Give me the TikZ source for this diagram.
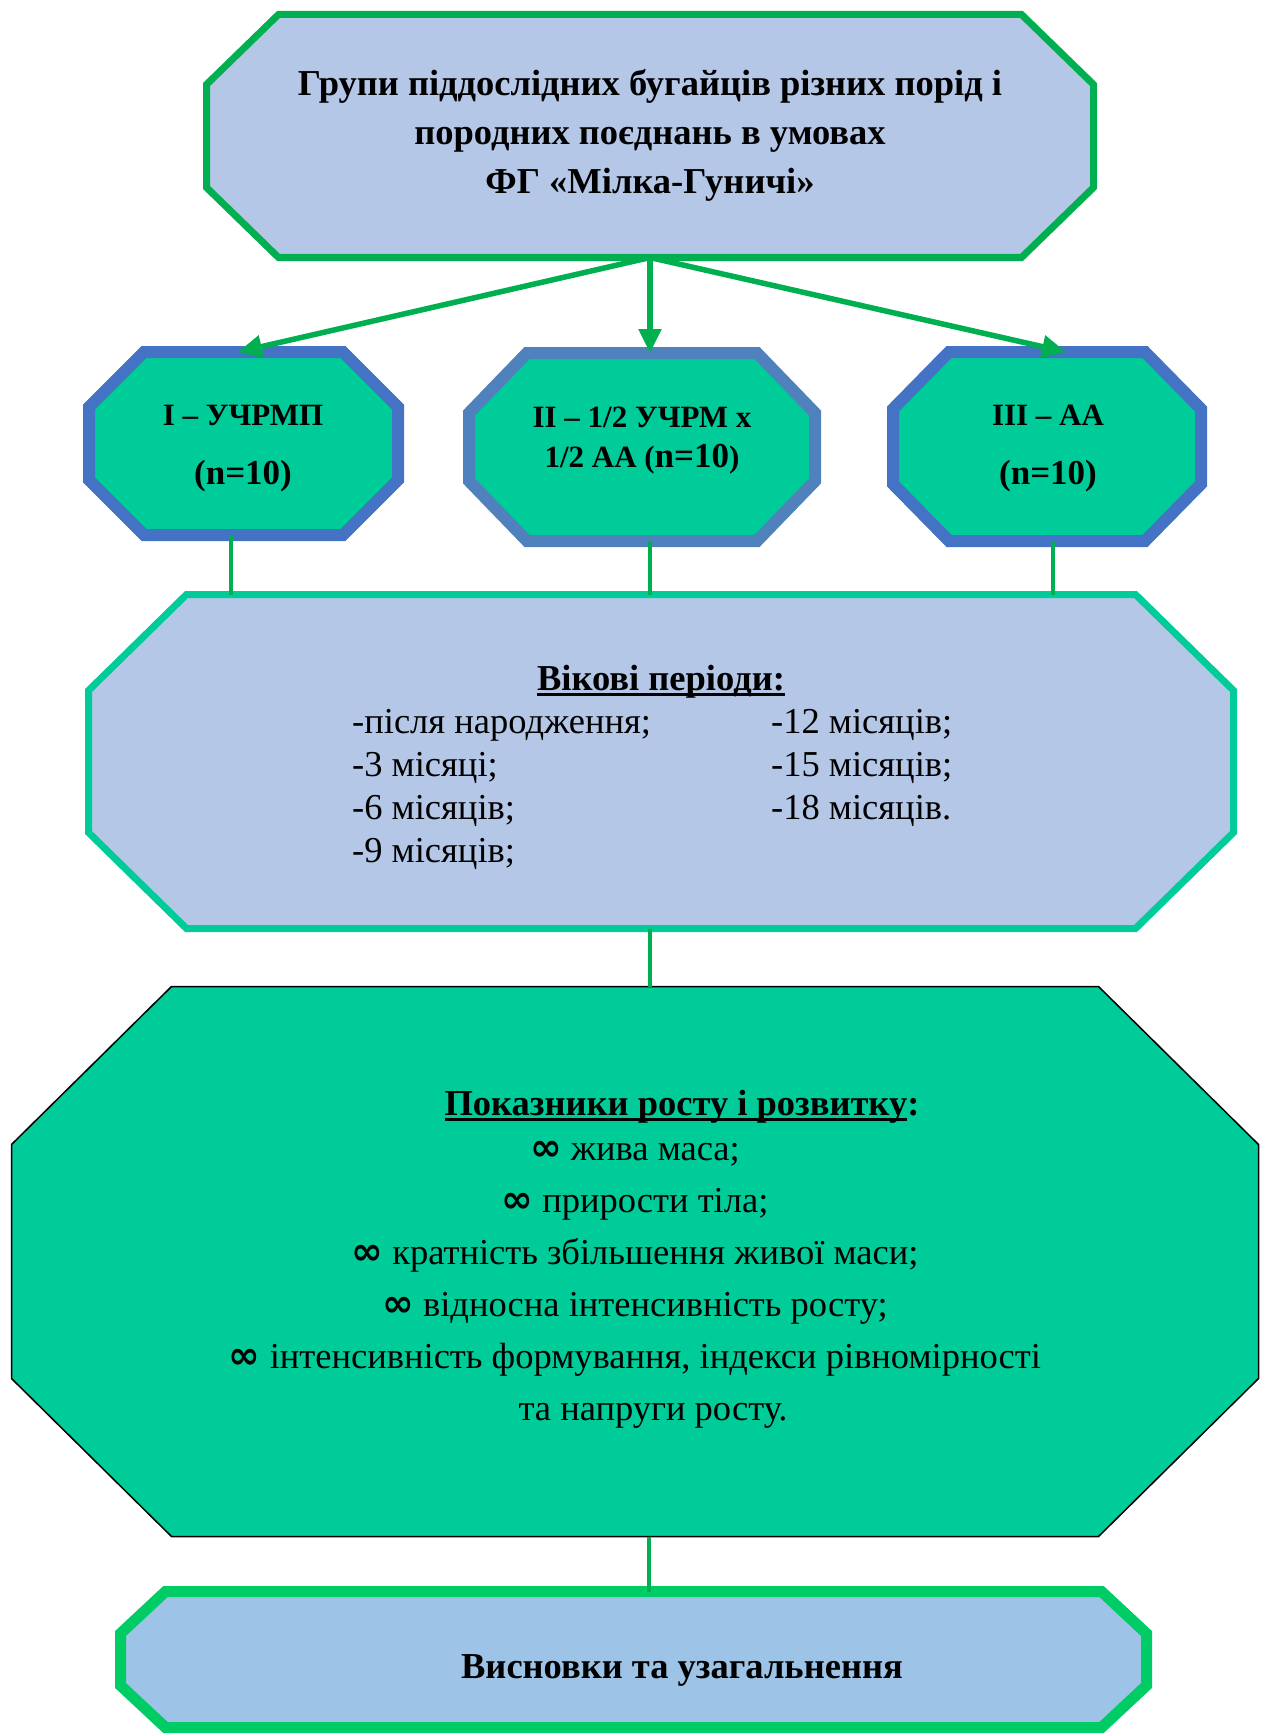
\documentclass[tikz,border=0pt]{standalone}
\usepackage{fontspec}
\setmainfont{Liberation Serif}
\newfontfamily\dejavu{DejaVu Sans}
\usetikzlibrary{arrows.meta}
\definecolor{arrgreen}{HTML}{00B050}
\definecolor{paleblue}{HTML}{B4C7E7}
\definecolor{lightblue}{HTML}{9DC3E6}
\definecolor{teal}{HTML}{00CC99}
\definecolor{blueA}{HTML}{4472C4}
\definecolor{blueB}{HTML}{4F81BD}
\definecolor{greenB}{HTML}{00CC66}
\newcommand\octframe[4]{%
  \draw[#4] ([xshift=#2]#1.north west) -- ([xshift=-#2]#1.north east)
    -- ([yshift=-#3]#1.north east) -- ([yshift=#3]#1.south east)
    -- ([xshift=-#2]#1.south east) -- ([xshift=#2]#1.south west)
    -- ([yshift=#3]#1.south west) -- ([yshift=-#3]#1.north west) -- cycle;}
\newcommand\thickul[1]{\setbox0\hbox{#1}\rlap{\rule[-6pt]{\wd0}{3pt}}\box0}
\newcommand\infmark{{\dejavu\bfseries\fontsize{38}{38}\selectfont ∞}}
\tikzset{
  frame/.style={inner sep=0pt, outer sep=0pt, draw=none},
  txt/.style={inner sep=0pt, text=black},
  arr/.style={draw=arrgreen, line width=5.5pt, -{Triangle[length=24pt,width=22pt]}},
  conn/.style={draw=arrgreen, line width=4.5pt},
  big/.style={font=\fontsize{36.5}{43}\selectfont},
  bigb/.style={font=\fontsize{36.5}{49}\selectfont\bfseries},
  boxb/.style={font=\fontsize{31}{40}\selectfont\bfseries},
}
\begin{document}
\begin{tikzpicture}[x=1pt,y=-1pt]
\useasboundingbox (0,0) rectangle (1266,1736);
\fill[white] (0,0) rectangle (1266,1736);
% frames
\node[frame, minimum width=887pt, minimum height=243pt] (top) at (650,136) {};
\node[frame, minimum width=309pt, minimum height=183pt] (b1) at (243.5,443.5) {};
\node[frame, minimum width=346pt, minimum height=188pt] (b2) at (642,447) {};
\node[frame, minimum width=308pt, minimum height=189pt] (b3) at (1047,446.5) {};
\node[frame, minimum width=1145pt, minimum height=334pt] (mid) at (661,761.5) {};
\node[frame, minimum width=1247pt, minimum height=550pt] (bigbox) at (635,1261.5) {};
\node[frame, minimum width=1026pt, minimum height=136pt] (bot) at (633.5,1659.5) {};
\octframe{top}{72pt}{70pt}{draw=arrgreen, line width=7pt, fill=paleblue}
\octframe{b1}{55pt}{55pt}{draw=blueA, line width=12pt, fill=teal}
\octframe{b2}{58pt}{60pt}{draw=blueB, line width=12pt, fill=teal}
\octframe{b3}{56pt}{57pt}{draw=blueA, line width=12pt, fill=teal}
\octframe{mid}{98pt}{96pt}{draw=teal, line width=7pt, fill=paleblue}
\octframe{bigbox}{160pt}{158pt}{draw=black, line width=1.5pt, fill=teal}
\octframe{bot}{45pt}{42pt}{draw=greenB, line width=11pt, fill=lightblue}
% connectors
\draw[arr] (top.south) -- ([xshift=-5.5pt]b1.north);
\draw[arr] (top.south) -- ([xshift=8pt]b2.north);
\draw[arr] (top.south) -- ([xshift=19pt]b3.north);
\draw[conn] ([xshift=-12.5pt]b1.south) -- ([xshift=-12.5pt]b1.south |- mid.north);
\draw[conn] ([xshift=8pt]b2.south) -- ([xshift=8pt]b2.south |- mid.north);
\draw[conn] ([xshift=6pt]b3.south) -- ([xshift=6pt]b3.south |- mid.north);
\draw[conn] ([xshift=-11pt]mid.south) -- ([xshift=-11pt]mid.south |- bigbox.north);
\draw[conn] ([xshift=14pt]bigbox.south) -- ([xshift=14pt]bigbox.south |- bot.north);
% texts
\node[txt, bigb, align=center] (toptext) at (650,135) {Групи піддослідних бугайців різних порід і\\породних поєднань в умовах\\ФГ «Мілка-Гуничі»};
\node[txt, boxb, anchor=base] (t1a) at (243,425) {I – УЧРМП};
\node[txt, boxb, anchor=base] (t1b) at (243,484) {\fontsize{35}{40}\selectfont(n=10)};
\node[txt, boxb, anchor=base] (t2a) at (642,427) {II – 1/2 УЧРМ x};
\node[txt, boxb, anchor=base] (t2b) at (642,467) {1/2 AA ({\fontsize{35}{40}\selectfont n=10})};
\node[txt, boxb, anchor=base] (t3a) at (1048,425) {III – AA};
\node[txt, boxb, anchor=base] (t3b) at (1048,484) {\fontsize{35}{40}\selectfont(n=10)};
\node[txt, bigb, anchor=base] (midhead) at (661,690) {\thickul{Вікові періоди:}};
\node[txt, big, anchor=base west] (midcol1) at (352,733) {\begin{tabular}[t]{@{}l@{}}-після народження;\\-3 місяці;\\-6 місяців;\\-9 місяців;\end{tabular}};
\node[txt, big, anchor=base west] (midcol2) at (771,733) {\begin{tabular}[t]{@{}l@{}}-12 місяців;\\-15 місяців;\\-18 місяців.\end{tabular}};
\node[txt, bigb, anchor=base] (bighead) at (682,1115) {\thickul{Показники росту і розвитку}:};
\node[txt, font=\fontsize{36.5}{52}\selectfont, anchor=base] (biglist) at (635,1160) {\begin{tabular}[t]{@{}c@{}}\infmark\ жива маса;\\\infmark\ прирости тіла;\\\infmark\ кратність збільшення живої маси;\\\infmark\ відносна інтенсивність росту;\\\infmark\ інтенсивність формування, індекси рівномірності\end{tabular}};
\node[txt, big, anchor=base] (biglast) at (653,1420) {та напруги росту.};
\node[txt, bigb, anchor=base] (bottext) at (682,1678) {Висновки та узагальнення};
\end{tikzpicture}
\end{document}
